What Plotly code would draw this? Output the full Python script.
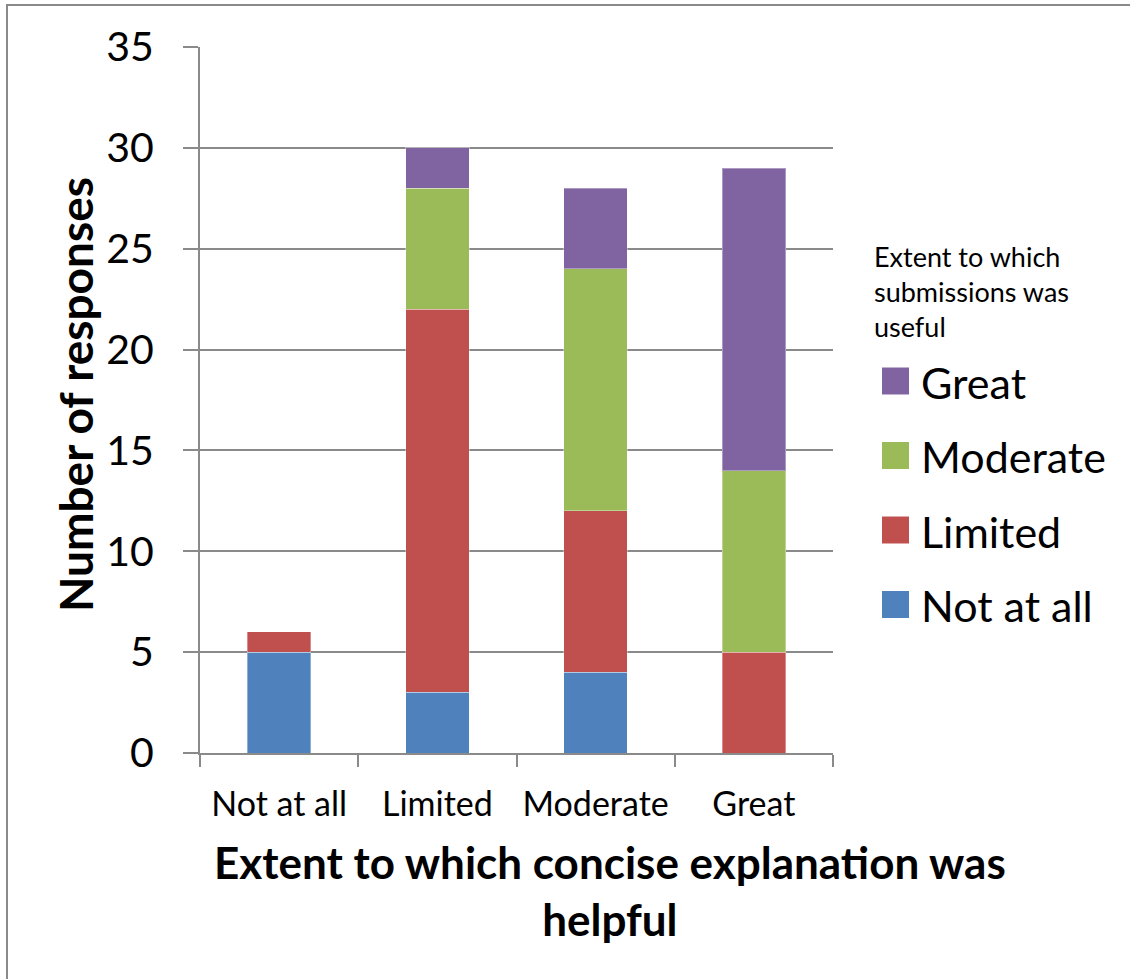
import plotly.graph_objects as go

# Survey responses: x categories = how helpful the concise explanation was,
# stacked series = how useful submissions were.
categories = ["Not at all", "Limited", "Moderate", "Great"]
series_names = ["Not at all", "Limited", "Moderate", "Great"]
not_at_all = [5, 3, 4, 0]
limited = [1, 19, 8, 5]
moderate = [0, 6, 12, 9]
great = [0, 2, 4, 15]
series_values = [not_at_all, limited, moderate, great]
colors = ["#4F81BD", "#C0504D", "#9BBB59", "#8064A2"]
y_ticks = [0, 5, 10, 15, 20, 25, 30, 35]

W, H = 1130, 979
L, R, T, B = 200, 297, 47, 226
pw, ph = W - L - R, H - T - B
FONT = "Lato, 'Open Sans', sans-serif"
GRID = "#8a8a8a"


def px(x):
    return (x - L) / pw


def py(y):
    return (H - B - y) / ph


fig = go.Figure()
for name, vals, col in zip(series_names, series_values, colors):
    fig.add_trace(go.Bar(
        x=categories, y=vals, name=name, marker_color=col,
        marker_line=dict(width=1, color="rgba(255,255,255,0.35)"),
        showlegend=False,
    ))

shapes = [
    # outer chart frame
    dict(type="rect", xref="paper", yref="paper",
         x0=px(7), x1=px(1140), y0=py(5), y1=py(990),
         line=dict(color="#8a8a8a", width=2), fillcolor="rgba(0,0,0,0)",
         layer="below"),
]
annotations = [
    dict(text="Number of responses", xref="paper", yref="paper",
         x=px(75), y=py(395), textangle=-90, showarrow=False,
         xanchor="center", yanchor="middle",
         font=dict(family=FONT, size=46, color="black", weight="bold")),
    dict(text="Extent to which concise explanation was<br>helpful",
         xref="paper", yref="paper", x=px(610), y=py(890),
         showarrow=False, xanchor="center", yanchor="middle",
         font=dict(family=FONT, size=44, color="black", weight="bold")),
    dict(text="Extent to which<br>submissions was<br>useful",
         xref="paper", yref="paper", x=px(872), y=py(238),
         showarrow=False, xanchor="left", yanchor="top", align="left",
         font=dict(family=FONT, size=27, color="black")),
]

# legend entries, top to bottom: Great, Moderate, Limited, Not at all
legend_top = 381
legend_step = 74.5
for i, (name, col) in enumerate(reversed(list(zip(series_names, colors)))):
    cy = legend_top + i * legend_step
    shapes.append(dict(type="rect", xref="paper", yref="paper",
                       x0=px(882), x1=px(909), y0=py(cy - 13.5), y1=py(cy + 13.5),
                       line=dict(width=0), fillcolor=col))
    annotations.append(dict(text=name, xref="paper", yref="paper",
                            x=px(919), y=py(cy + 1), showarrow=False,
                            xanchor="left", yanchor="middle",
                            font=dict(family=FONT, size=43, color="black")))

fig.update_layout(
    width=W, height=H,
    margin=dict(l=L, r=R, t=T, b=B, autoexpand=False),
    barmode="stack", bargap=0.6,
    plot_bgcolor="white", paper_bgcolor="white",
    font=dict(family=FONT, color="black"),
    shapes=shapes, annotations=annotations,
    xaxis=dict(
        showgrid=False, showline=True, linecolor=GRID, linewidth=2,
        ticks="outside", tickson="boundaries", ticklen=12, tickwidth=2,
        tickcolor=GRID, tickfont=dict(size=34, family=FONT), tickangle=0,
        ticklabelstandoff=20,
    ),
    yaxis=dict(
        range=[0, 35], tickvals=y_ticks, showgrid=True, gridcolor=GRID,
        gridwidth=2, showline=True, linecolor=GRID, linewidth=2,
        ticks="outside", ticklen=15, tickwidth=2, tickcolor=GRID,
        tickfont=dict(size=41, family=FONT), ticklabelstandoff=21,
        zeroline=False,
    ),
)

fig.write_html("out.html")
